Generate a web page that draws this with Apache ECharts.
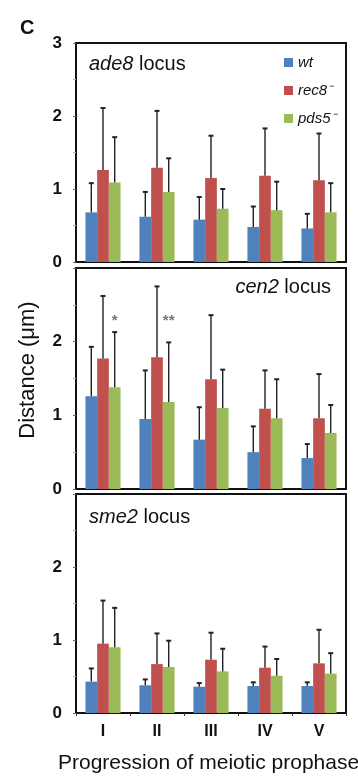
<!DOCTYPE html>
<html>
<head>
<meta charset="utf-8">
<script src="https://cdn.jsdelivr.net/npm/echarts@6/dist/echarts.min.js"></script>
<style>html,body{margin:0;padding:0;background:#fff;}#c{width:358px;height:778px;}</style>
</head>
<body>
<div id="c"></div>
<script>
// ---- data ----
const categories = ['I', 'II', 'III', 'IV', 'V'];
const seriesNames = ['wt', 'rec8', 'pds5'];
const yTicks = [0, 1, 2, 3];

// ade8 locus
const ade8Wt = [0.68, 0.62, 0.58, 0.48, 0.46];
const ade8WtSd = [0.40, 0.34, 0.31, 0.28, 0.20];
const ade8Rec8 = [1.26, 1.29, 1.15, 1.18, 1.12];
const ade8Rec8Sd = [0.85, 0.78, 0.58, 0.65, 0.64];
const ade8Pds5 = [1.09, 0.96, 0.73, 0.71, 0.68];
const ade8Pds5Sd = [0.62, 0.46, 0.27, 0.39, 0.40];

// cen2 locus
const cen2Wt = [1.26, 0.95, 0.67, 0.50, 0.42];
const cen2WtSd = [0.67, 0.66, 0.44, 0.35, 0.19];
const cen2Rec8 = [1.77, 1.79, 1.49, 1.09, 0.96];
const cen2Rec8Sd = [0.85, 0.96, 0.87, 0.52, 0.60];
const cen2Pds5 = [1.38, 1.18, 1.10, 0.96, 0.76];
const cen2Pds5Sd = [0.75, 0.81, 0.52, 0.53, 0.38];
const cen2Stars = ['*', '**', '', '', ''];
const starLevel = 2.28;

// sme2 locus
const sme2Wt = [0.43, 0.38, 0.36, 0.37, 0.37];
const sme2WtSd = [0.18, 0.08, 0.05, 0.05, 0.05];
const sme2Rec8 = [0.95, 0.67, 0.73, 0.62, 0.68];
const sme2Rec8Sd = [0.59, 0.42, 0.37, 0.29, 0.46];
const sme2Pds5 = [0.90, 0.63, 0.57, 0.51, 0.54];
const sme2Pds5Sd = [0.54, 0.36, 0.31, 0.23, 0.28];

// ---- build ----
const colors = ['#4F81BD', '#C0504D', '#9BBB59'];
const legendNames = ['wt', 'rec8\u207B', 'pds5\u207B'];
const panels = [
  { means: [ade8Wt, ade8Rec8, ade8Pds5], sds: [ade8WtSd, ade8Rec8Sd, ade8Pds5Sd] },
  { means: [cen2Wt, cen2Rec8, cen2Pds5], sds: [cen2WtSd, cen2Rec8Sd, cen2Pds5Sd] },
  { means: [sme2Wt, sme2Rec8, sme2Pds5], sds: [sme2WtSd, sme2Rec8Sd, sme2Pds5Sd] }
];
const gridBoxes = [
  { left: 76, top: 43, width: 270, height: 219 },
  { left: 76, top: 268, width: 270, height: 221 },
  { left: 76, top: 494, width: 270, height: 219 }
];
const gapRatio = 0.35;

const grids = gridBoxes.map(g => Object.assign({ show: true, borderColor: '#111', borderWidth: 2, backgroundColor: 'transparent' }, g));

const xAxes = gridBoxes.map((g, p) => ({
  type: 'category', gridIndex: p, data: categories,
  axisLine: { show: true, lineStyle: { color: '#111', width: 2 } },
  axisTick: { show: p === 2, length: 3, lineStyle: { color: '#333' } },
  axisLabel: { show: p === 2, color: '#111', fontSize: 16, fontWeight: 'bold', fontFamily: 'Liberation Sans, Arial', margin: 11 }
}));

const yAxes = gridBoxes.map((g, p) => ({
  type: 'value', gridIndex: p, min: yTicks[0], max: yTicks[yTicks.length - 1], interval: 1,
  axisLine: { show: true, lineStyle: { color: '#111', width: 2 } },
  axisTick: { show: true, length: 3, lineStyle: { color: '#666' } },
  minorTick: { show: true, splitNumber: 2, length: 3, lineStyle: { color: '#aaa' } },
  splitLine: { show: false },
  axisLabel: {
    color: '#111', fontSize: 17, fontWeight: 'bold', fontFamily: 'Liberation Sans, Arial', margin: 14,
    formatter: v => (p > 0 && v === 3) ? '' : String(v)
  }
}));

const series = [];
panels.forEach((panel, p) => {
  panel.means.forEach((vals, k) => {
    series.push({
      name: legendNames[k], type: 'bar', xAxisIndex: p, yAxisIndex: p,
      data: vals, barGap: '0%', barCategoryGap: (gapRatio * 100) + '%',
      itemStyle: { color: colors[k] }, z: 2
    });
  });
  panel.means.forEach((vals, k) => {
    const sd = panel.sds[k];
    series.push({
      type: 'custom', xAxisIndex: p, yAxisIndex: p, z: 3,
      data: vals.map((v, i) => [i, v, v + sd[i]]),
      renderItem: (params, api) => {
        const i = api.value(0);
        const catW = api.size([1, 0])[0];
        const bw = catW * (1 - gapRatio) / 3;
        const base = api.coord([i, api.value(1)]);
        const top = api.coord([i, api.value(2)]);
        const x = base[0] + (k - 1) * bw;
        const cap = 2.5;
        return {
          type: 'group', children: [
            { type: 'line', shape: { x1: x, y1: base[1], x2: x, y2: top[1] }, style: { stroke: '#222', lineWidth: 1.4 } },
            { type: 'line', shape: { x1: x - cap, y1: top[1], x2: x + cap, y2: top[1] }, style: { stroke: '#222', lineWidth: 2 } }
          ]
        };
      }
    });
  });
});

// significance stars over pds5 bars (cen2 panel)
series.push({
  type: 'custom', xAxisIndex: 1, yAxisIndex: 1, z: 4,
  data: cen2Stars.map((s, i) => [i, starLevel, s]),
  renderItem: (params, api) => {
    const i = api.value(0);
    const s = cen2Stars[i];
    if (!s) return null;
    const catW = api.size([1, 0])[0];
    const bw = catW * (1 - gapRatio) / 3;
    const pt = api.coord([i, starLevel]);
    return {
      type: 'text', x: pt[0] + bw, y: pt[1],
      style: { text: s, fill: '#777', font: 'bold 15px Liberation Sans, Arial', textAlign: 'center', textVerticalAlign: 'middle' }
    };
  }
});

const locusText = (name) => '{i|' + name + '}{n| locus}';
const locusRich = {
  i: { fontStyle: 'italic', fontWeight: 'normal', fontSize: 20, color: '#111', fontFamily: 'Liberation Sans, Arial' },
  n: { fontWeight: 'normal', fontSize: 20, color: '#111', fontFamily: 'Liberation Sans, Arial' }
};

const option = {
  animation: false,
  backgroundColor: '#fff',
  grid: grids,
  xAxis: xAxes,
  yAxis: yAxes,
  legend: {
    data: legendNames, orient: 'vertical', left: 279, top: 50,
    icon: 'rect', itemWidth: 9, itemHeight: 9, itemGap: 13,
    textStyle: { fontSize: 15, fontStyle: 'italic', color: '#111', fontFamily: 'Liberation Sans, Arial' }
  },
  title: [
    { text: locusText('ade8'), left: 84, top: 49, textStyle: { fontWeight: 'normal', rich: locusRich } },
    { text: locusText('cen2'), right: 22, top: 272, textStyle: { fontWeight: 'normal', rich: locusRich } },
    { text: locusText('sme2'), left: 84, top: 502, textStyle: { fontWeight: 'normal', rich: locusRich } }
  ],
  graphic: [
    { type: 'text', left: 20, top: 18, style: { text: 'C', font: 'bold 20px Liberation Sans, Arial', fill: '#111' } },
    { type: 'text', x: 28, y: 370, rotation: Math.PI / 2, style: { text: 'Distance (\u03BCm)', font: '22px Liberation Sans, Arial', fill: '#111', textAlign: 'center', textVerticalAlign: 'middle' } },
    { type: 'text', x: 58, y: 763, style: { text: 'Progression of meiotic prophase', font: '21px Liberation Sans, Arial', fill: '#111', textAlign: 'left', textVerticalAlign: 'middle' } }
  ],
  series: series
};

const chart = echarts.init(document.getElementById('c'), null, { renderer: 'canvas' });
chart.setOption(option);
</script>
</body>
</html>
